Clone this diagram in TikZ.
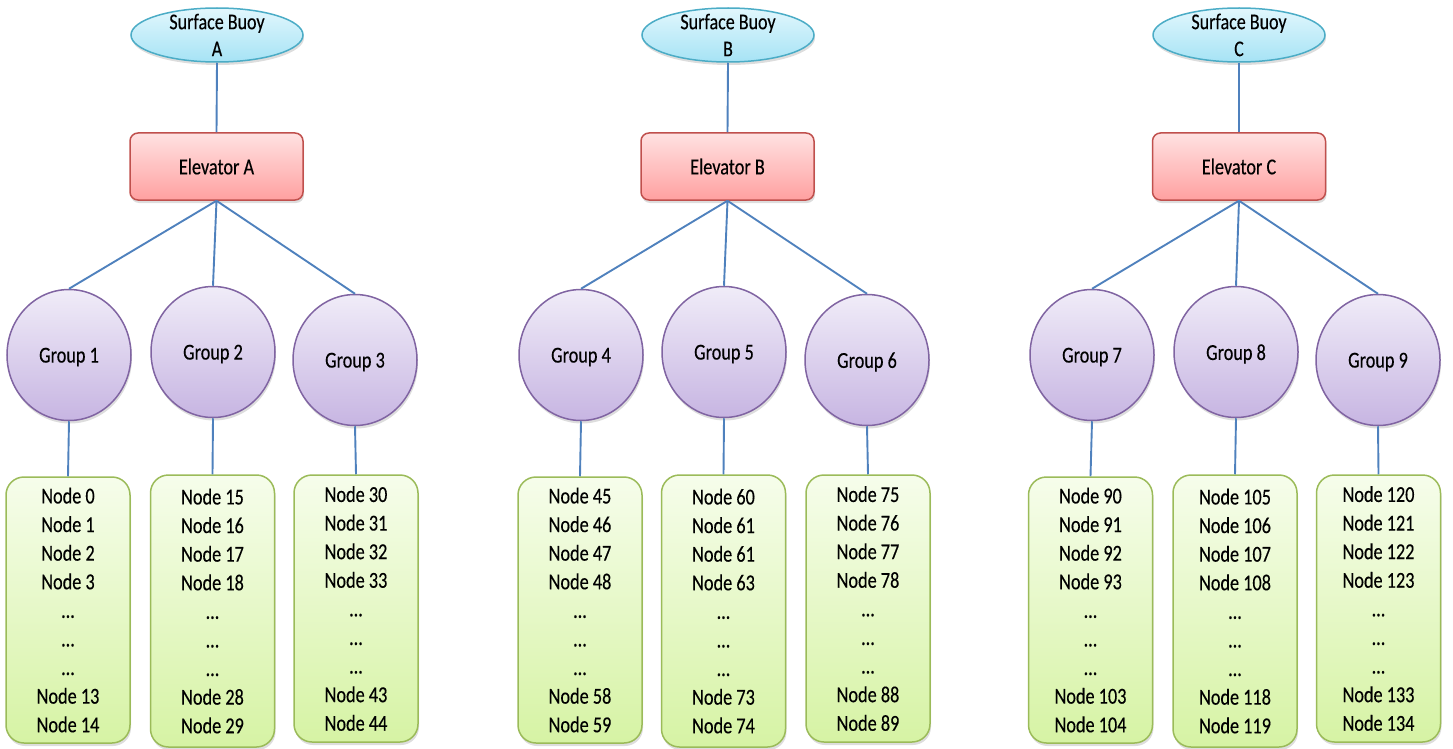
\documentclass[tikz,border=0pt]{standalone}
\usepackage{fontspec}
\setmainfont{Carlito}[FakeStretch=0.8,UprightFeatures={FakeBold=0.3}]
\usetikzlibrary{shapes.geometric,shadows}
\definecolor{linkblue}{HTML}{4F81BD}
\definecolor{buoyborder}{HTML}{4BACC6}
\definecolor{buoytop}{HTML}{E2F7FD}
\definecolor{buoybot}{HTML}{A6E3F5}
\definecolor{elevborder}{HTML}{C0504D}
\definecolor{elevtop}{HTML}{FFE2E2}
\definecolor{elevbot}{HTML}{FFA0A0}
\definecolor{grpborder}{HTML}{8064A2}
\definecolor{grptop}{HTML}{F0ECF8}
\definecolor{grpbot}{HTML}{C7B5E2}
\definecolor{boxborder}{HTML}{9BBB59}
\definecolor{boxtop}{HTML}{F6FDEB}
\definecolor{boxbot}{HTML}{D6F3A4}
\begin{document}
\begin{tikzpicture}[x=1pt,y=-1pt,
  conn/.style={draw=linkblue,line width=1.9pt},
  shad/.style={drop shadow={shadow xshift=1pt,shadow yshift=-3pt,opacity=0.22,fill=black!60}},
  buoy/.style={ellipse,draw=buoyborder,line width=1.5pt,top color=buoytop,bottom color=buoybot,
    minimum width=172pt,minimum height=54pt,inner sep=0pt,shad},
  buoytext/.style={align=center,font=\fontsize{22.5}{27}\selectfont,inner sep=0pt},
  elev/.style={rectangle,rounded corners=8pt,draw=elevborder,line width=1.5pt,top color=elevtop,bottom color=elevbot,
    minimum width=173pt,minimum height=67pt,inner sep=0pt,font=\fontsize{22.8}{28.6}\selectfont,shad},
  grp/.style={ellipse,draw=grpborder,line width=1.5pt,top color=grptop,bottom color=grpbot,
    minimum width=124pt,minimum height=131pt,inner sep=0pt,font=\fontsize{22.8}{28.6}\selectfont,shad},
  grplabel/.style={font=\fontsize{22.8}{28.6}\selectfont,inner sep=0pt,yshift=-2pt},
  nbox/.style={rectangle,rounded corners=18pt,draw=boxborder,line width=1.5pt,top color=boxtop,bottom color=boxbot,
    minimum width=124pt,inner sep=0pt,align=center,font=\fontsize{22.8}{28.6}\selectfont,shad}
]
\useasboundingbox (0,0) rectangle (1453,749);

% ---------- Buoys ----------
\node[buoy,label={[buoytext]center:{Surface Buoy\\A}}] (bA) at (217,35) {};
\node[buoy,label={[buoytext]center:{Surface Buoy\\B}}] (bB) at (728,35) {};
\node[buoy,label={[buoytext]center:{Surface Buoy\\C}}] (bC) at (1239,35) {};

% ---------- Elevators ----------
\node[elev] (eA) at (216.5,166.5) {Elevator A};
\node[elev] (eB) at (727.5,166.5) {Elevator B};
\node[elev] (eC) at (1239,166.5) {Elevator C};

% ---------- Groups ----------
\node[grp,label={[grplabel]center:Group 1}] (g1) at (69,355) {};
\node[grp,label={[grplabel]center:Group 2}] (g2) at (213,352) {};
\node[grp,label={[grplabel]center:Group 3}] (g3) at (355,360) {};
\node[grp,label={[grplabel]center:Group 4}] (g4) at (581,355) {};
\node[grp,label={[grplabel]center:Group 5}] (g5) at (724,352) {};
\node[grp,label={[grplabel]center:Group 6}] (g6) at (867,360) {};
\node[grp,label={[grplabel]center:Group 7}] (g7) at (1092,355) {};
\node[grp,label={[grplabel]center:Group 8}] (g8) at (1236,352) {};
\node[grp,label={[grplabel]center:Group 9}] (g9) at (1378,360) {};

% ---------- Node boxes ----------
\node[nbox,minimum height=266pt] (n1) at (68,610) {Node 0\\Node 1\\Node 2\\Node 3\\…\\…\\…\\Node 13\\Node 14};
\node[nbox,minimum height=272pt] (n2) at (212.5,611) {Node 15\\Node 16\\Node 17\\Node 18\\…\\…\\…\\Node 28\\Node 29};
\node[nbox,minimum height=267pt] (n3) at (356,608.5) {Node 30\\Node 31\\Node 32\\Node 33\\…\\…\\…\\Node 43\\Node 44};
\node[nbox,minimum height=266pt] (n4) at (580,610) {Node 45\\Node 46\\Node 47\\Node 48\\…\\…\\…\\Node 58\\Node 59};
\node[nbox,minimum height=272pt] (n5) at (723.5,611) {Node 60\\Node 61\\Node 61\\Node 63\\…\\…\\…\\Node 73\\Node 74};
\node[nbox,minimum height=267pt] (n6) at (868,608.5) {Node 75\\Node 76\\Node 77\\Node 78\\…\\…\\…\\Node 88\\Node 89};
\node[nbox,minimum height=266pt] (n7) at (1090.5,610) {Node 90\\Node 91\\Node 92\\Node 93\\…\\…\\…\\Node 103\\Node 104};
\node[nbox,minimum height=272pt] (n8) at (1235,611) {Node 105\\Node 106\\Node 107\\Node 108\\…\\…\\…\\Node 118\\Node 119};
\node[nbox,minimum height=267pt] (n9) at (1378.5,608.5) {Node 120\\Node 121\\Node 122\\Node 123\\…\\…\\…\\Node 133\\Node 134};

% ---------- Connectors ----------
\foreach \b/\e in {bA/eA,bB/eB,bC/eC}
  \draw[conn] (\b.south) -- (\e.north);
\foreach \e/\g in {eA/g1,eA/g2,eA/g3,eB/g4,eB/g5,eB/g6,eC/g7,eC/g8,eC/g9}
  \draw[conn] (\e.south) -- (\g.north);
\foreach \g/\n in {g1/n1,g2/n2,g3/n3,g4/n4,g5/n5,g6/n6,g7/n7,g8/n8,g9/n9}
  \draw[conn] (\g.south) -- (\n.north);
\end{tikzpicture}
\end{document}
